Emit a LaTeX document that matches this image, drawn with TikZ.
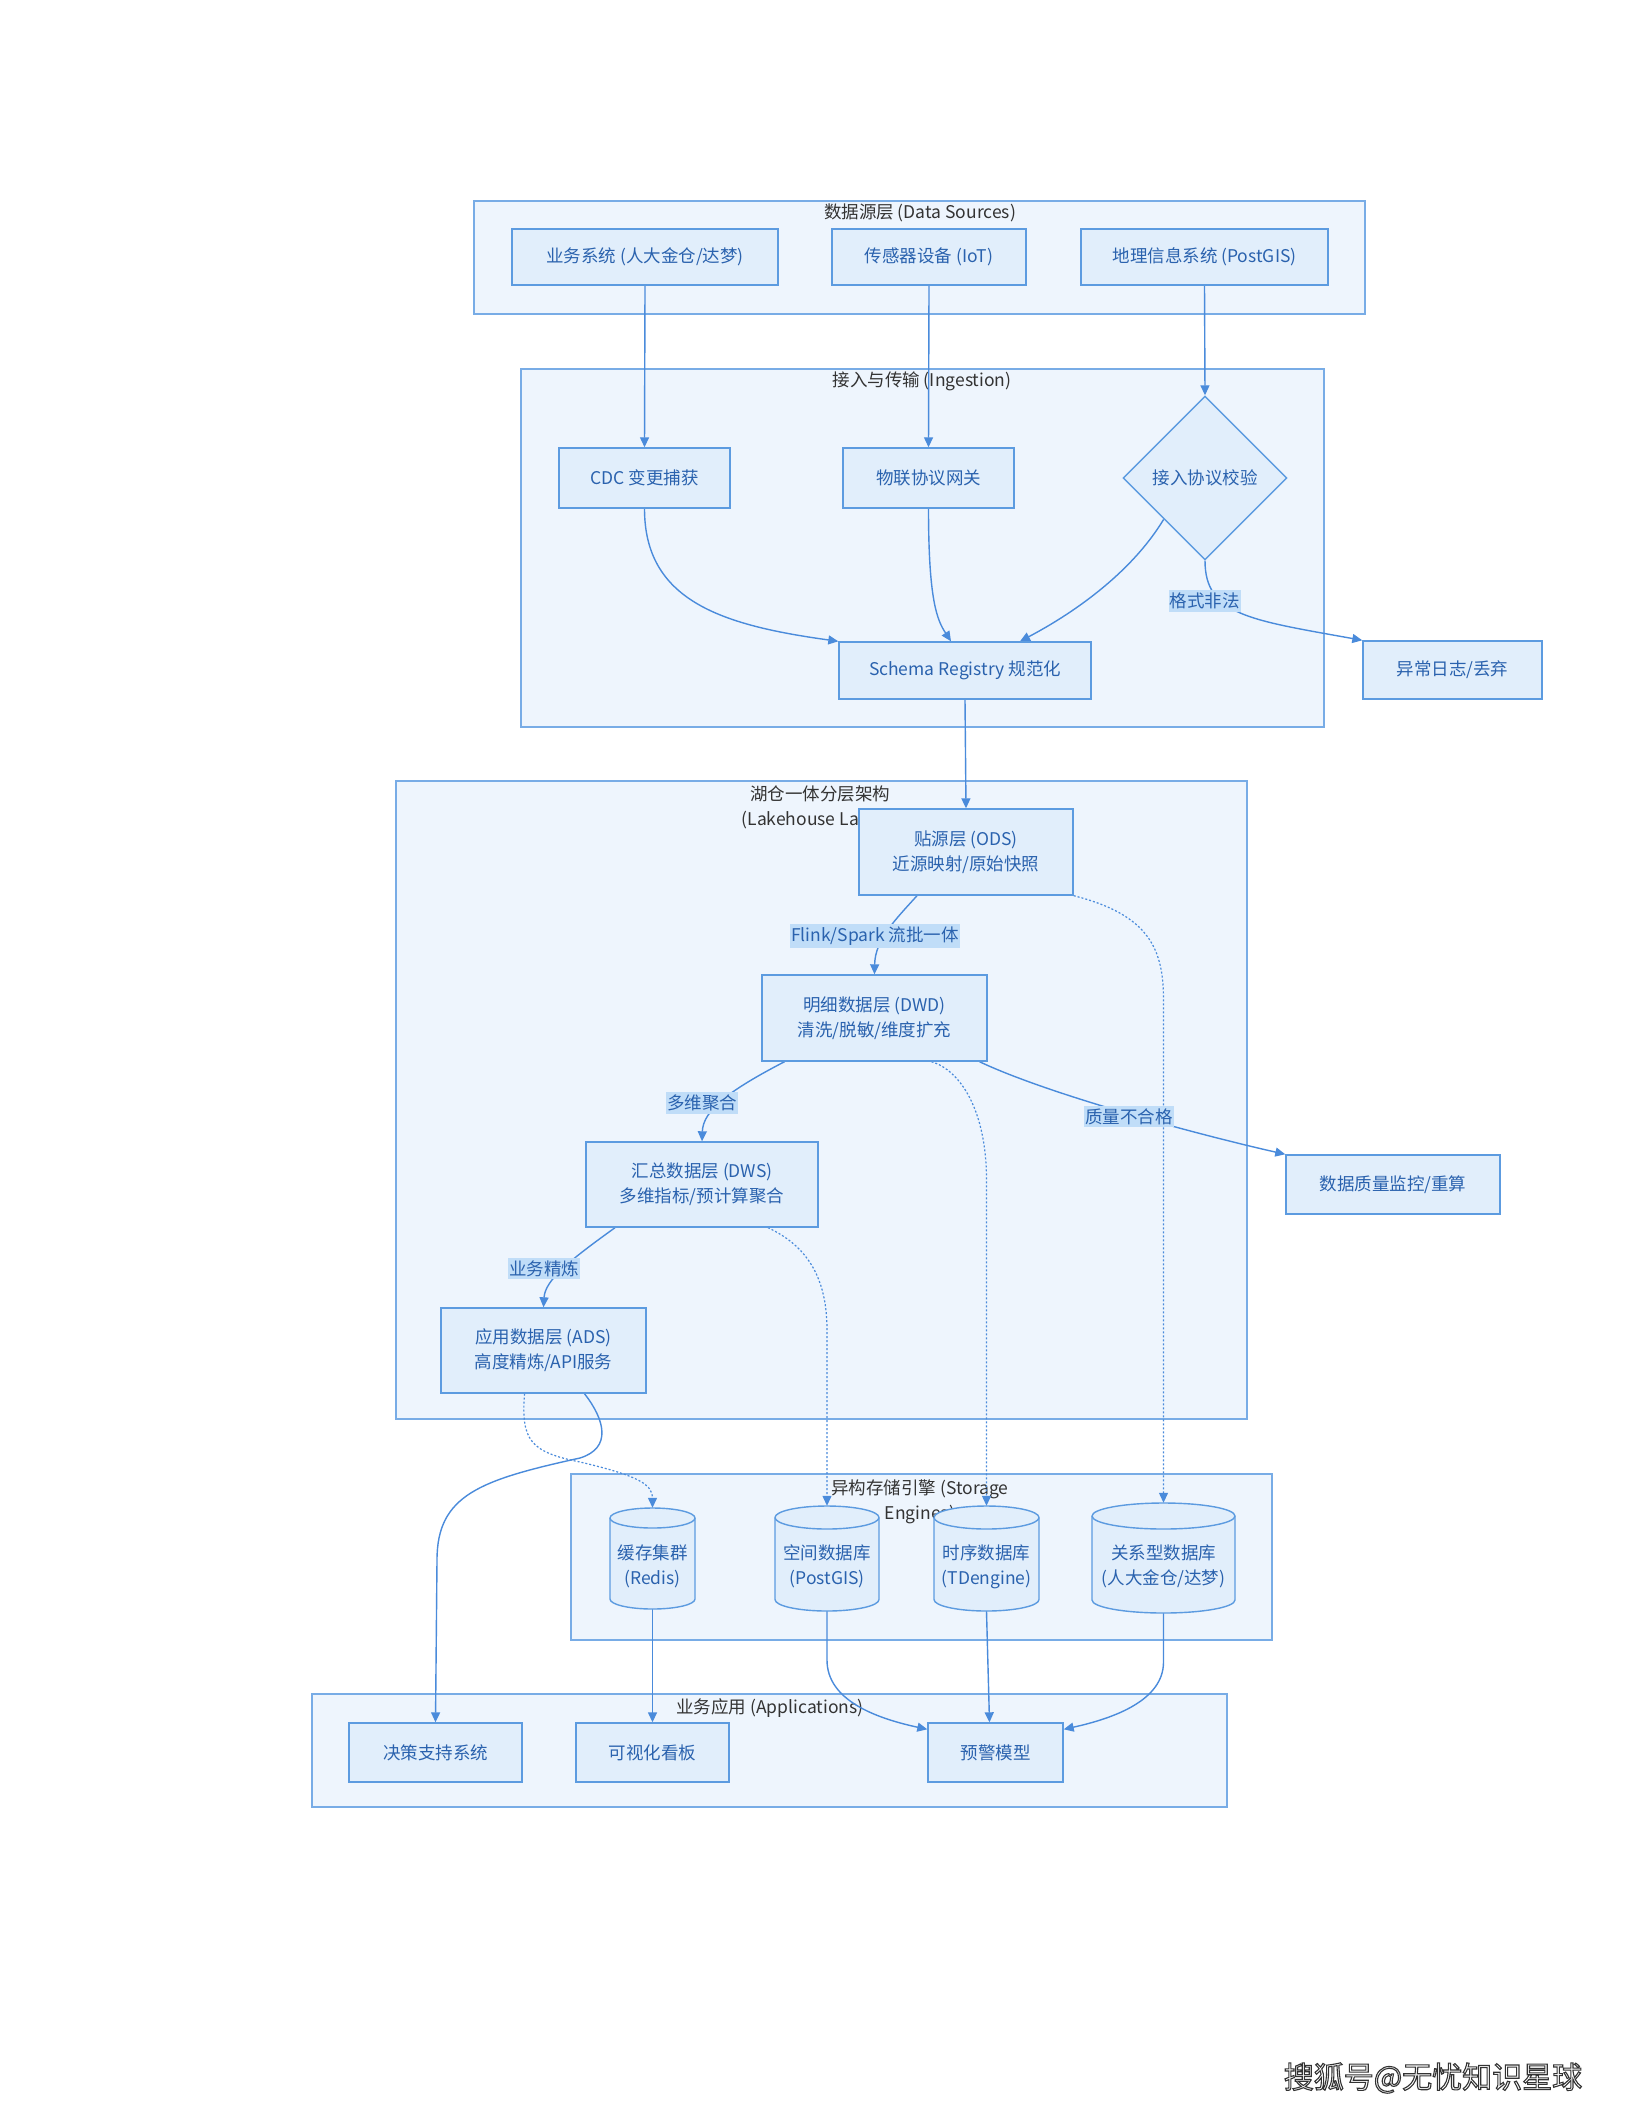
\documentclass[tikz,border=0pt]{standalone}
\usepackage{fontspec}
\setmainfont{Noto Sans CJK SC}
\usetikzlibrary{arrows.meta,shapes.geometric}
\definecolor{clfill}{HTML}{EEF5FD}
\definecolor{cldraw}{HTML}{78ACE6}
\definecolor{ndfill}{HTML}{E1EEFB}
\definecolor{nddraw}{HTML}{5C9BE0}
\definecolor{ndtext}{HTML}{2A62AE}
\definecolor{edgecol}{HTML}{4A8BDB}
\definecolor{lblfill}{HTML}{C0DDF8}
\definecolor{titletext}{HTML}{333333}
\pgfdeclarelayer{bglayer}
\pgfdeclarelayer{edgelayer}
\pgfsetlayers{bglayer,edgelayer,main}
\newcommand\cyltxt[2]{\raisebox{-13pt}[0pt][0pt]{\begin{tabular}{@{}c@{}}#1\\#2\end{tabular}}}
\newcommand\dbshape[5]{%
  \filldraw[dbline] ({#1-#3/2},{#2-#4/2+#5}) -- ({#1-#3/2},{#2+#4/2-#5})
    arc[start angle=180,end angle=360,x radius={#3*0.5pt},y radius={#5*1pt}]
    -- ({#1+#3/2},{#2-#4/2+#5})
    arc[start angle=0,end angle=180,x radius={#3*0.5pt},y radius={#5*1pt}] -- cycle;
  \draw[dbline,fill=none] ({#1-#3/2},{#2-#4/2+#5})
    arc[start angle=180,end angle=360,x radius={#3*0.5pt},y radius={#5*1pt}];
}
\begin{document}
\begin{tikzpicture}[x=1pt,y=-1pt,
  every node/.style={font=\fontsize{17.5pt}{25pt}\selectfont},
  cluster/.style={draw=cldraw, fill=clfill, line width=1.3pt, inner sep=0pt, rectangle},
  cltitle/.style={text=titletext, inner sep=0pt, align=center},
  box/.style={draw=nddraw, fill=ndfill, line width=1.4pt, text=ndtext, align=center, inner sep=0pt, rectangle},
  decision/.style={diamond, aspect=1, draw=nddraw, fill=ndfill, line width=1.4pt, text=ndtext, inner sep=0pt},
  lbl/.style={fill=lblfill, text=ndtext, inner xsep=1pt, inner ysep=2.5pt},
  edge/.style={draw=edgecol, line width=1.4pt, -{Triangle[length=10pt,width=9pt]}},
  dotedge/.style={edge, line width=1.2pt, dash pattern=on 2pt off 2pt},
  dbline/.style={draw=nddraw, fill=ndfill, line width=1.4pt},
  dbnode/.style={text=ndtext, inner sep=0pt, rectangle},
]
\useasboundingbox (0,0) rectangle (1632,2112);

\begin{pgfonlayer}{bglayer}
\fill[white] (0,0) rectangle (1632,2112);
\node[cluster, minimum width=891pt, minimum height=113pt] (clDS) at (919.5,257.5) {};
\node[cltitle] (tDS) at (920,213) {数据源层 (Data Sources)};
\node[cluster, minimum width=803pt, minimum height=358pt] (clIN) at (922.5,548) {};
\node[cltitle] (tIN) at (922,381) {接入与传输 (Ingestion)};
\node[cluster, minimum width=851pt, minimum height=638pt] (clLH) at (821.5,1100) {};
\node[cltitle] (tLH) at (820,808) {湖仓一体分层架构\\(Lakehouse Layers)};
\node[cluster, minimum width=701pt, minimum height=166pt] (clST) at (921.5,1557) {};
\node[cltitle] (tST) at (920,1501.5) {异构存储引擎 (Storage\\Engines)};
\node[cluster, minimum width=915pt, minimum height=113pt] (clAP) at (769.5,1750.5) {};
\node[cltitle] (tAP) at (770,1708) {业务应用 (Applications)};
\end{pgfonlayer}

% data sources
\node[box, minimum width=266pt, minimum height=56pt] (src1) at (645,257) {业务系统 (人大金仓/达梦)};
\node[box, minimum width=194pt, minimum height=56pt] (src2) at (929,257) {传感器设备 (IoT)};
\node[box, minimum width=247pt, minimum height=56pt] (src3) at (1204.5,257) {地理信息系统 (PostGIS)};

% ingestion
\node[box, minimum width=171pt, minimum height=60pt] (cdc) at (644.5,478) {CDC 变更捕获};
\node[box, minimum width=171pt, minimum height=60pt] (iotgw) at (928.5,478) {物联协议网关};
\node[decision, minimum width=164pt, minimum height=164pt] (check) at (1205,478) {接入协议校验};
\node[box, minimum width=252pt, minimum height=57pt] (schema) at (965,670.5) {Schema Registry 规范化};
\node[box, minimum width=179pt, minimum height=58pt] (err) at (1452.5,670) {异常日志/丢弃};

% lakehouse
\node[box, minimum width=214pt, minimum height=86pt] (ods) at (966,852) {贴源层 (ODS)\\近源映射/原始快照};
\node[box, minimum width=225pt, minimum height=86pt] (dwd) at (874.5,1018) {明细数据层 (DWD)\\清洗/脱敏/维度扩充};
\node[box, minimum width=232pt, minimum height=85pt] (dws) at (702,1184.5) {汇总数据层 (DWS)\\多维指标/预计算聚合};
\node[box, minimum width=205pt, minimum height=85pt] (ads) at (543.5,1350.5) {应用数据层 (ADS)\\高度精炼/API服务};
\node[box, minimum width=214pt, minimum height=59pt] (dq) at (1393,1184.5) {数据质量监控/重算};

% storage
\dbshape{652.5}{1558.5}{85}{101}{10}
\node[dbnode, minimum width=85pt, minimum height=101pt] (redis) at (652.5,1558.5) {\cyltxt{缓存集群}{(Redis)}};
\dbshape{827}{1558.5}{104}{105}{11.5}
\node[dbnode, minimum width=104pt, minimum height=105pt] (pg) at (827,1558.5) {\cyltxt{空间数据库}{(PostGIS)}};
\dbshape{986.5}{1558.5}{105}{105}{11.5}
\node[dbnode, minimum width=105pt, minimum height=105pt] (tdb) at (986.5,1558.5) {\cyltxt{时序数据库}{(TDengine)}};
\dbshape{1163.5}{1558}{143}{110}{13}
\node[dbnode, minimum width=143pt, minimum height=110pt] (rdb) at (1163.5,1558) {\cyltxt{关系型数据库}{(人大金仓/达梦)}};

% applications
\node[box, minimum width=173pt, minimum height=59pt] (dss) at (435.5,1752.5) {决策支持系统};
\node[box, minimum width=153pt, minimum height=59pt] (vis) at (652.5,1752.5) {可视化看板};
\node[box, minimum width=135pt, minimum height=59pt] (warn) at (995.5,1752.5) {预警模型};

% edge labels
\node[lbl] (lblfmt) at (1204.5,601) {格式非法};
\node[lbl] (lblflink) at (875,936) {Flink/Spark 流批一体};
\node[lbl] (lblagg) at (702,1103) {多维聚合};
\node[lbl] (lblref) at (544,1268.5) {业务精炼};
\node[lbl] (lblq) at (1129,1116.5) {质量不合格};

% credit
\node[font=\fontsize{30pt}{30pt}\selectfont, text=white, inner sep=0pt] (credit) at (1433,2078)
  {\special{pdf:literal direct 2 Tr 0.2 0.2 0.2 RG 1.1 w}搜狐号@无忧知识星球\special{pdf:literal direct 0 Tr}};

\begin{pgfonlayer}{edgelayer}
\draw[edge] (src1.south) -- (cdc.north);
\draw[edge] (src2.south) -- (iotgw.north);
\draw[edge] (src3.south) -- (check.north);
\draw[edge] (cdc.south) .. controls (644.5,600) and (720,625) .. (schema.north west);
\draw[edge] (iotgw.south) .. controls (928.5,600) and (937,620) .. ([xshift=-14pt]schema.north);
\draw[edge] (check.south west) .. controls (1130,575) and (1070,615) .. ([xshift=55pt]schema.north);
\draw[edge] (check.south) .. controls (1205,615) and (1250,620) .. (err.north west);
\draw[edge] (schema.south) -- (ods.north);
\draw[edge] ([xshift=-49pt]ods.south) .. controls (895,920) and (875,940) .. (dwd.north);
\draw[edge] ([xshift=-90pt]dwd.south) .. controls (730,1090) and (703,1110) .. (dws.north);
\draw[edge] ([xshift=-87pt]dws.south) .. controls (570,1260) and (545,1280) .. (ads.north);
\draw[edge] ([xshift=105pt]dwd.south) .. controls (1050,1095) and (1200,1135) .. (dq.north west);
\draw[dotedge] (ods.south east) .. controls (1150,915) and (1163.5,950) .. (1163.5,1000) -- (rdb.north);
\draw[dotedge] ([xshift=57pt]dwd.south) .. controls (960,1070) and (986.5,1110) .. (986.5,1180) -- (tdb.north);
\draw[dotedge] ([xshift=66pt]dws.south) .. controls (805,1245) and (827,1275) .. (827,1330) -- (pg.north);
\draw[dotedge] ([xshift=-19pt]ads.south) .. controls (521,1440) and (530,1452) .. (580,1462) .. controls (640,1476) and (652.5,1485) .. (redis.north);
\draw[edge] ([xshift=41pt]ads.south) .. controls (605,1420) and (612,1448) .. (580,1458) .. controls (480,1480) and (437,1495) .. (437,1560) -- (dss.north);
\draw[edge] (redis.south) -- (vis.north);
\draw[edge] (pg.south) -- (827,1660) .. controls (827,1700) and (875,1718) .. ([yshift=-7pt]warn.north west);
\draw[edge] (tdb.south) -- ([xshift=-6pt]warn.north);
\draw[edge] (rdb.south) -- (1163.5,1662) .. controls (1163.5,1700) and (1115,1718) .. ([yshift=-7pt]warn.north east);
\end{pgfonlayer}
\end{tikzpicture}
\end{document}
